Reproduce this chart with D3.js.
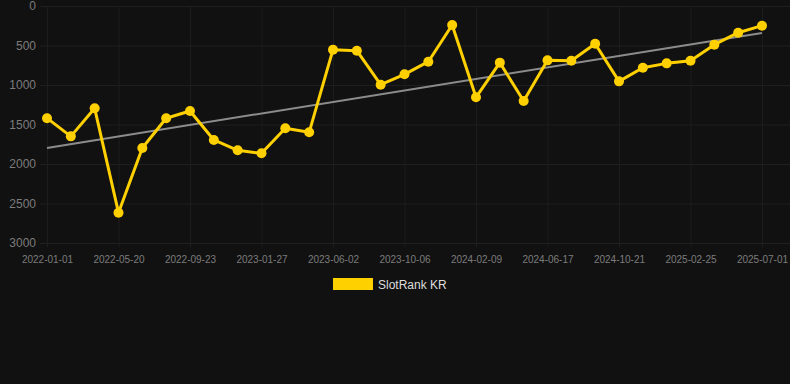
<!DOCTYPE html>
<html>
<head>
<meta charset="utf-8">
<script src="https://cdn.jsdelivr.net/npm/d3@7"></script>
<style>
  html, body { margin: 0; padding: 0; background: #111111; }
  #chart { width: 790px; height: 384px; }
</style>
</head>
<body>
<div id="chart"></div>
<script>
// SlotRank KR – rank over time (lower is better, so y runs downwards)

const dates = [
  '2022-01-01', '2022-02-16', '2022-04-04', '2022-05-20', '2022-07-01', '2022-08-12',
  '2022-09-23', '2022-11-04', '2022-12-16', '2023-01-27', '2023-03-10', '2023-04-21',
  '2023-06-02', '2023-07-14', '2023-08-25', '2023-10-06', '2023-11-17', '2023-12-29',
  '2024-02-09', '2024-03-22', '2024-05-06', '2024-06-17', '2024-07-29', '2024-09-09',
  '2024-10-21', '2024-12-02', '2025-01-13', '2025-02-25', '2025-04-08', '2025-05-20',
  '2025-07-01'
];

const ranks = [
  1420, 1650, 1295, 2616, 1797, 1421, 1329, 1696, 1827, 1865,
  1548, 1599, 553, 566, 996, 865, 705, 241, 1156, 717,
  1203, 688, 692, 477, 954, 781, 726, 692, 489, 338,
  249
];

const yTicks = [0, 500, 1000, 1500, 2000, 2500, 3000];
const seriesName = 'SlotRank KR';

const width = 790;
const height = 384;
const plot = { left: 40, right: 790, top: 6, bottom: 243 };

const svg = d3.select('#chart')
  .append('svg')
  .attr('width', width)
  .attr('height', height)
  .style('font-family', 'Arial, "Liberation Sans", sans-serif');

svg.append('rect')
  .attr('width', width)
  .attr('height', height)
  .attr('fill', '#111111');

const x = d3.scalePoint()
  .domain(dates)
  .range([47, 762]);

const y = d3.scaleLinear()
  .domain([0, 3000])
  .range([plot.top, plot.bottom]);

// horizontal grid + y labels
const yAxis = d3.axisLeft(y)
  .tickValues(yTicks)
  .tickFormat(d3.format('d'))
  .tickSize(-(plot.right - plot.left))
  .tickPadding(4);

svg.append('g')
  .attr('transform', `translate(${plot.left},0)`)
  .call(yAxis)
  .call(g => g.select('.domain').remove())
  .call(g => g.selectAll('line').attr('stroke', '#1f1f1f'))
  .call(g => g.selectAll('text')
    .attr('fill', '#7c7c7c')
    .attr('font-size', '12px'));

// vertical grid on labelled categories + x labels
const shownDates = dates.filter((d, i) => i % 3 === 0);
const xAxis = d3.axisBottom(x)
  .tickValues(shownDates)
  .tickSize(-(plot.bottom - plot.top) - 4)
  .tickPadding(9);

svg.append('g')
  .attr('transform', `translate(0,${plot.bottom + 4})`)
  .call(xAxis)
  .call(g => g.select('.domain').remove())
  .call(g => g.selectAll('line').attr('stroke', '#1d1d1d'))
  .call(g => g.selectAll('text')
    .attr('fill', '#7c7c7c')
    .attr('font-size', '10px'));

// trend line (least squares over index)
const n = ranks.length;
const xs = d3.range(n);
const mx = d3.mean(xs);
const my = d3.mean(ranks);
const slope = d3.sum(xs, i => (i - mx) * (ranks[i] - my)) / d3.sum(xs, i => (i - mx) * (i - mx));
const intercept = my - slope * mx;

svg.append('line')
  .attr('x1', x(dates[0]))
  .attr('y1', y(intercept))
  .attr('x2', x(dates[n - 1]))
  .attr('y2', y(intercept + slope * (n - 1)))
  .attr('stroke', '#8c8c8c')
  .attr('stroke-width', 2);

// series
const line = d3.line()
  .x((d, i) => x(dates[i]))
  .y(d => y(d));

svg.append('path')
  .datum(ranks)
  .attr('d', line)
  .attr('fill', 'none')
  .attr('stroke', '#ffd000')
  .attr('stroke-width', 3)
  .attr('stroke-linejoin', 'round');

svg.append('g')
  .selectAll('circle')
  .data(ranks)
  .join('circle')
  .attr('cx', (d, i) => x(dates[i]))
  .attr('cy', d => y(d))
  .attr('r', 5)
  .attr('fill', '#ffd000');

// legend
const legend = svg.append('g').attr('transform', 'translate(333,278)');
legend.append('rect')
  .attr('width', 40)
  .attr('height', 12)
  .attr('fill', '#ffd000');
legend.append('text')
  .attr('x', 45)
  .attr('y', 10.5)
  .attr('fill', '#dddddd')
  .attr('font-size', '12px')
  .text(seriesName);
</script>
</body>
</html>
